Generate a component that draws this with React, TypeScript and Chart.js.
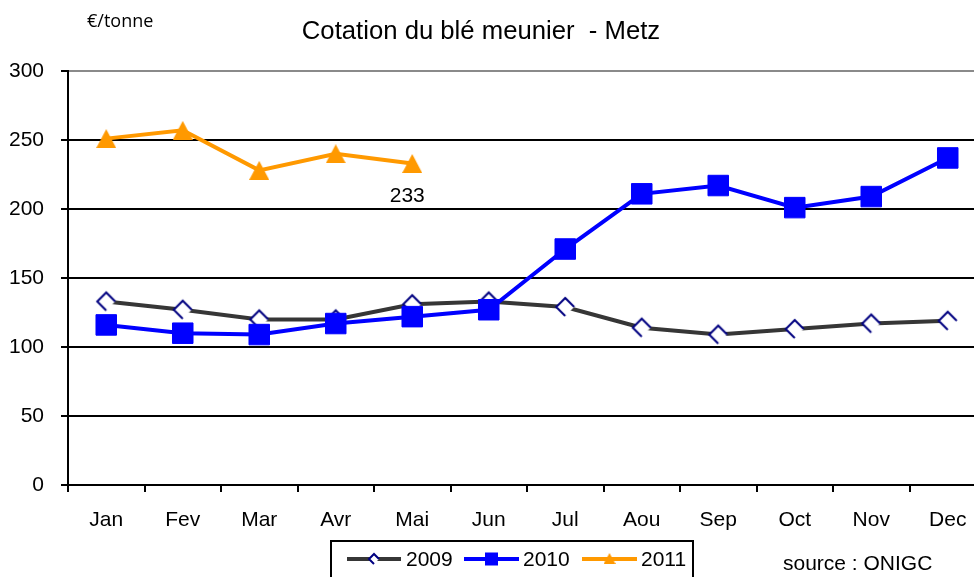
import React, { useEffect, useRef } from 'react';
import { Chart, registerables } from 'chart.js';

Chart.register(...registerables);

const months = ['Jan', 'Fev', 'Mar', 'Avr', 'Mai', 'Jun', 'Jul', 'Aou', 'Sep', 'Oct', 'Nov', 'Dec'];
const values2009 = [133, 127, 120, 120, 131, 133, 129, 114, 109, 113, 117, 119];
const values2010 = [116, 110, 109, 117, 122, 127, 171, 211, 217, 201, 209, 237];
const values2011 = [251, 257, 228, 240, 233];
const seriesNames = ['2009', '2010', '2011'];
const yMin = 0;
const yMax = 300;
const yStep = 50;
const chartTitle = 'Cotation du blé meunier  - Metz';
const unitText = '€/tonne';
const sourceText = 'source : ONIGC';
const lastLabelText = '233';

const ARIAL = "'Liberation Sans', Arial, sans-serif";
const C2009 = '#363636';
const C2010 = '#0000ff';
const C2011 = '#ff9900';
const NAVY = '#000080';

function makeDiamond(half: number, lw: number): HTMLCanvasElement {
  const size = Math.ceil(half * 2 + lw * 2 + 2);
  const c = document.createElement('canvas');
  c.width = size;
  c.height = size;
  const ctx = c.getContext('2d')!;
  const m = size / 2;
  ctx.beginPath();
  ctx.moveTo(m, m - half);
  ctx.lineTo(m + half, m);
  ctx.lineTo(m, m + half);
  ctx.lineTo(m - half, m);
  ctx.closePath();
  ctx.fillStyle = '#ffffff';
  ctx.fill();
  ctx.strokeStyle = NAVY;
  ctx.lineWidth = lw;
  ctx.beginPath();
  ctx.moveTo(m + half, m);
  ctx.lineTo(m, m - half);
  ctx.lineTo(m - half, m);
  ctx.lineTo(m, m + half);
  ctx.stroke();
  return c;
}

function makeTriangle(w: number, h: number, color: string): HTMLCanvasElement {
  const c = document.createElement('canvas');
  c.width = w;
  c.height = h;
  const ctx = c.getContext('2d')!;
  ctx.beginPath();
  ctx.moveTo(w / 2, 0);
  ctx.lineTo(w, h);
  ctx.lineTo(0, h);
  ctx.closePath();
  ctx.fillStyle = color;
  ctx.fill();
  return c;
}

export default function App() {
  const ref = useRef<HTMLCanvasElement | null>(null);

  useEffect(() => {
    if (!ref.current) return;
    const diamond = makeDiamond(9, 2);
    const triangle = makeTriangle(20, 19, C2011);
    const diamondSmall = makeDiamond(5, 2);
    const triangleSmall = makeTriangle(12, 11, C2011);

    const extras = {
      id: 'extras',
      afterDraw(chart: any) {
        const ctx = chart.ctx;
        ctx.save();
        ctx.fillStyle = '#000';
        ctx.textBaseline = 'middle';
        // title
        ctx.font = `25.7px ${ARIAL}`;
        ctx.textAlign = 'center';
        ctx.fillText(chartTitle, 481, 32);
        // unit
        ctx.font = "18px 'Open Sans', sans-serif";
        ctx.textAlign = 'left';
        ctx.fillText(unitText, 87, 22);
        // data label
        const meta = chart.getDatasetMeta(2);
        const pt = meta.data[meta.data.length - 1];
        ctx.font = `21px ${ARIAL}`;
        ctx.textAlign = 'center';
        ctx.fillText(lastLabelText, pt.x - 5, pt.y + 33);
        // source
        ctx.textAlign = 'left';
        ctx.fillText(sourceText, 783, 564);
        // legend box
        ctx.strokeStyle = '#000';
        ctx.lineWidth = 2;
        ctx.strokeRect(331, 541, 362, 60);
        const ly = 559;
        const items = [
          { x0: 347, x1: 401, color: C2009, tx: 406 },
          { x0: 464, x1: 519, color: C2010, tx: 523 },
          { x0: 582, x1: 637, color: C2011, tx: 641 },
        ];
        items.forEach((it, i) => {
          ctx.strokeStyle = it.color;
          ctx.lineWidth = 4;
          ctx.beginPath();
          ctx.moveTo(it.x0, ly);
          ctx.lineTo(it.x1, ly);
          ctx.stroke();
          const mx = (it.x0 + it.x1) / 2;
          if (i === 0) {
            ctx.drawImage(diamondSmall, mx - diamondSmall.width / 2, ly - diamondSmall.height / 2);
          } else if (i === 1) {
            ctx.fillStyle = C2010;
            ctx.fillRect(mx - 6.5, ly - 6.5, 13, 13);
          } else {
            ctx.drawImage(triangleSmall, mx - 6, ly - 6);
          }
          ctx.fillStyle = '#000';
          ctx.font = `21px ${ARIAL}`;
          ctx.textAlign = 'left';
          ctx.fillText(seriesNames[i], it.tx, ly + 1);
        });
        ctx.restore();
      },
    };

    const chart = new Chart(ref.current, {
      type: 'line',
      data: {
        labels: months,
        datasets: [
          {
            label: seriesNames[0],
            data: values2009,
            borderColor: C2009,
            borderWidth: 4,
            pointStyle: diamond as any,
            pointRadius: 9,
            backgroundColor: '#fff',
            order: 2,
          },
          {
            label: seriesNames[1],
            data: values2010,
            borderColor: C2010,
            borderWidth: 4,
            pointStyle: 'rect',
            pointRadius: 14.5,
            pointBorderWidth: 1,
            pointBackgroundColor: C2010,
            pointBorderColor: C2010,
            backgroundColor: C2010,
            order: 0,
          },
          {
            label: seriesNames[2],
            data: values2011,
            borderColor: C2011,
            borderWidth: 4,
            pointStyle: triangle as any,
            pointRadius: 10,
            backgroundColor: C2011,
            order: 1,
          },
        ],
      },
      options: {
        animation: false,
        responsive: true,
        maintainAspectRatio: false,
        devicePixelRatio: 1,
        layout: { autoPadding: false, padding: { top: 71, left: 0, right: 0, bottom: 0 } },
        plugins: {
          legend: { display: false },
          title: { display: false },
          tooltip: { enabled: false },
        },
        scales: {
          x: {
            offset: true,
            ticks: {
              color: '#000',
              font: { family: ARIAL, size: 21 },
              padding: 16,
              maxRotation: 0,
              autoSkip: false,
            },
            grid: {
              display: true,
              drawOnChartArea: false,
              drawTicks: true,
              tickLength: 7,
              color: '#000',
              lineWidth: 2,
              offset: true,
            },
            border: { color: '#000', width: 2 },
            afterFit: (s: any) => {
              s.height = 92;
              s.paddingLeft = 0;
              s.paddingRight = 0;
            },
          },
          y: {
            min: yMin,
            max: yMax,
            ticks: {
              stepSize: yStep,
              color: '#000',
              font: { family: ARIAL, size: 21 },
              padding: 17,
            },
            grid: {
              color: (c: any) => (c.tick && c.tick.value === yMax ? '#8a8a8a' : '#000'),
              tickColor: '#000',
              lineWidth: 2,
              tickLength: 7,
              drawTicks: true,
            },
            border: { color: '#000', width: 2 },
            afterFit: (s: any) => {
              s.width = 68;
            },
          },
        },
      },
      plugins: [extras],
    });
    return () => chart.destroy();
  }, []);

  return (
    <div
      style={{
        position: 'fixed',
        left: 0,
        top: 0,
        width: 974,
        height: 577,
        overflow: 'hidden',
        background: '#fff',
      }}
    >
      <div style={{ position: 'relative', width: 986, height: 577 }}>
        <canvas ref={ref} />
      </div>
    </div>
  );
}
